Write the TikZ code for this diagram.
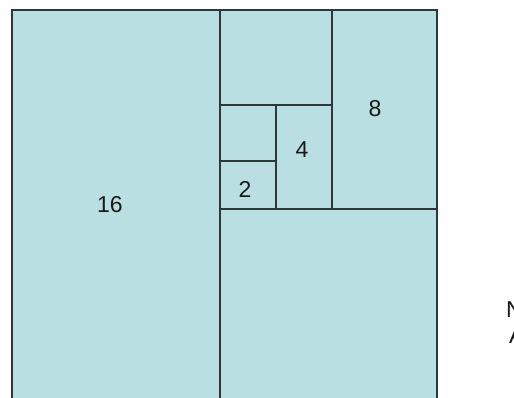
\documentclass[tikz,border=0pt]{standalone}
\usepackage{fontspec}
\setmainfont{Liberation Sans}
\usetikzlibrary{positioning,calc}
\definecolor{tilefill}{RGB}{185,223,226}
\definecolor{tileline}{RGB}{45,55,58}

\begin{document}
\begin{tikzpicture}[
    x=1pt,y=-1pt,
    tile/.style={fill=tilefill,draw=tileline,line width=1.1pt},
    cut/.style={draw=tileline,line width=1.1pt},
    size/.style={font=\fontsize{23}{27}\selectfont,text=black!90,inner sep=0pt}
]
  \useasboundingbox (0,0) rectangle (514,398);
  \clip (0,0) rectangle (514,398);

  % Outer square and the corners of the tiles.
  \coordinate (tl) at (12,10);
  \coordinate (br) at (437,420);
  \coordinate (a0) at (220,10);
  \coordinate (a1) at (220,420);
  \coordinate (b0) at (220,209);
  \coordinate (b1) at (437,209);
  \coordinate (c0) at (332,10);
  \coordinate (c1) at (332,209);
  \coordinate (d0) at (220,105);
  \coordinate (d1) at (332,105);
  \coordinate (e0) at (276,105);
  \coordinate (e1) at (276,209);
  \coordinate (f0) at (220,161);
  \coordinate (f1) at (276,161);

  \path[tile] (tl) rectangle (br);

  % Splits, from the largest tile down to the smallest.
  \draw[cut] (a0)--(a1);
  \draw[cut] (b0)--(b1);
  \draw[cut] (c0)--(c1);
  \draw[cut] (d0)--(d1);
  \draw[cut] (e0)--(e1);
  \draw[cut] (f0)--(f1);

  % Side lengths.
  \node[size] (s16) at (110,205) {16};
  \node[size] (s8)  at (375,109) {8};
  \node[size] (s4)  at (302,150) {4};
  \node[size] (s2)  at (245,189) {2};

  % Text cut off at the right edge.
  \node[size,anchor=base west] (nt) at (506,317) {N};
  \node[size,anchor=base west] (at) at (509,343) {A};
\end{tikzpicture}
\end{document}
